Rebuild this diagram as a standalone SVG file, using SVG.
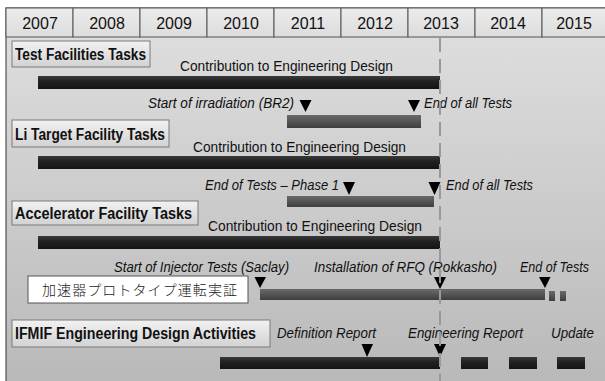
<svg xmlns="http://www.w3.org/2000/svg" width="605" height="381" viewBox="0 0 605 381">
  <defs>
    <linearGradient id="bgGrad" x1="0" y1="0" x2="0" y2="1">
      <stop offset="0" stop-color="#e0e0e0"/>
      <stop offset="1" stop-color="#b9b9b9"/>
    </linearGradient>
    <linearGradient id="hdrGrad" x1="0" y1="0" x2="0" y2="1">
      <stop offset="0" stop-color="#ececec"/>
      <stop offset="1" stop-color="#dcdcdc"/>
    </linearGradient>
    <linearGradient id="boxGrad" x1="0" y1="0" x2="0" y2="1">
      <stop offset="0" stop-color="#f2f2f2"/>
      <stop offset="1" stop-color="#d2d2d2"/>
    </linearGradient>
    <linearGradient id="darkBar" x1="0" y1="0" x2="0" y2="1">
      <stop offset="0" stop-color="#3a3a3a"/>
      <stop offset="0.4" stop-color="#222"/>
      <stop offset="1" stop-color="#141414"/>
    </linearGradient>
    <linearGradient id="midBar" x1="0" y1="0" x2="0" y2="1">
      <stop offset="0" stop-color="#6a6a6a"/>
      <stop offset="1" stop-color="#3e3e3e"/>
    </linearGradient>
    <style>
      .yr { font-family: "Liberation Sans", Arial, sans-serif; font-size: 16px; fill: #111; text-anchor: middle; }
      .cell { fill: url(#hdrGrad); stroke: #555; stroke-width: 1; }
      .box { fill: url(#boxGrad); stroke: #7a7a7a; stroke-width: 1; }
      .lbl { font-family: "Liberation Sans", Arial, sans-serif; font-size: 16px; font-weight: bold; fill: #111; }
      .txt { font-family: "Liberation Sans", Arial, sans-serif; font-size: 15px; fill: #111; }
      .it { font-family: "Liberation Sans", Arial, sans-serif; font-size: 14.5px; font-style: italic; fill: #111; }
      .dark { fill: url(#darkBar); }
      .mid { fill: url(#midBar); }
      .tri { fill: #000; }
      .now { stroke: #999; stroke-width: 2; stroke-dasharray: 14 7; fill: none; }
    </style>
  </defs>

  <!-- canvas -->
  <rect x="0" y="0" width="605" height="381" fill="#fff"/>
  <rect x="6" y="8" width="600" height="374" fill="url(#bgGrad)" stroke="#333" stroke-width="1"/>

  <!-- year header -->
  <g id="years">
    <rect class="cell" x="6" y="8" width="67" height="29"/>
    <rect class="cell" x="73" y="8" width="67" height="29"/>
    <rect class="cell" x="140" y="8" width="67" height="29"/>
    <rect class="cell" x="207" y="8" width="67" height="29"/>
    <rect class="cell" x="274" y="8" width="67" height="29"/>
    <rect class="cell" x="341" y="8" width="67" height="29"/>
    <rect class="cell" x="408" y="8" width="67" height="29"/>
    <rect class="cell" x="475" y="8" width="67" height="29"/>
    <rect class="cell" x="542" y="8" width="67" height="29"/>
    <text class="yr" x="40" y="29">2007</text>
    <text class="yr" x="107" y="29">2008</text>
    <text class="yr" x="174" y="29">2009</text>
    <text class="yr" x="241" y="29">2010</text>
    <text class="yr" x="308" y="29">2011</text>
    <text class="yr" x="375" y="29">2012</text>
    <text class="yr" x="441" y="29">2013</text>
    <text class="yr" x="508" y="29">2014</text>
    <text class="yr" x="574" y="29">2015</text>
  </g>

  <!-- Test Facilities -->
  <g id="test-facilities">
    <rect class="box" x="12" y="41" width="138" height="26"/>
    <text class="lbl" x="15" y="60" textLength="131" lengthAdjust="spacingAndGlyphs">Test Facilities Tasks</text>
    <text class="txt" x="180" y="71" textLength="213" lengthAdjust="spacingAndGlyphs">Contribution to Engineering Design</text>
    <rect class="dark" x="38" y="76" width="402" height="13"/>
    <text class="it" x="148" y="108" textLength="146" lengthAdjust="spacingAndGlyphs">Start of irradiation (BR2)</text>
    <rect class="mid" x="287" y="115" width="134" height="13"/>
    <path class="tri" d="M299.5 100 L311.5 100 L305.5 112 Z"/>
    <path class="tri" d="M408 100 L420 100 L414 112 Z"/>
    <text class="it" x="424" y="108" textLength="88" lengthAdjust="spacingAndGlyphs">End of all Tests</text>
  </g>

  <!-- Li Target Facility -->
  <g id="li-target">
    <rect class="box" x="12" y="120" width="157" height="27"/>
    <text class="lbl" x="15" y="140" textLength="150" lengthAdjust="spacingAndGlyphs">Li Target Facility Tasks</text>
    <text class="txt" x="193" y="152" textLength="213" lengthAdjust="spacingAndGlyphs">Contribution to Engineering Design</text>
    <rect class="dark" x="38" y="156" width="402" height="13"/>
    <text class="it" x="205" y="190" textLength="134" lengthAdjust="spacingAndGlyphs">End of Tests – Phase 1</text>
    <rect class="mid" x="287" y="196" width="147" height="11"/>
    <path class="tri" d="M343 182 L355 182 L349 195 Z"/>
    <path class="tri" d="M428.5 182 L440.5 182 L434.5 195 Z"/>
    <text class="it" x="446" y="190" textLength="87" lengthAdjust="spacingAndGlyphs">End of all Tests</text>
  </g>

  <!-- Accelerator Facility -->
  <g id="accelerator">
    <rect class="box" x="12" y="201" width="186" height="24"/>
    <text class="lbl" x="15" y="219" textLength="177" lengthAdjust="spacingAndGlyphs">Accelerator Facility Tasks</text>
    <text class="txt" x="208" y="231" textLength="214" lengthAdjust="spacingAndGlyphs">Contribution to Engineering Design</text>
    <rect class="dark" x="38" y="236" width="402" height="13"/>
    <text class="it" x="114" y="272" textLength="175" lengthAdjust="spacingAndGlyphs">Start of Injector Tests (Saclay)</text>
    <text class="it" x="314" y="272" textLength="183" lengthAdjust="spacingAndGlyphs">Installation of RFQ (Rokkasho)</text>
    <text class="it" x="520" y="272" textLength="69" lengthAdjust="spacingAndGlyphs">End of Tests</text>
    <rect class="mid" x="260" y="289" width="285" height="11"/>
    <rect class="mid" x="549" y="291" width="6" height="10"/>
    <rect class="mid" x="560" y="291" width="6" height="10"/>
    <path class="tri" d="M254.5 277 L266 277 L260 288 Z"/>
    <path class="tri" d="M434 277 L446 277 L440 289 Z"/>
    <path class="tri" d="M539 277 L550.5 277 L545 288 Z"/>
  </g>

  <!-- prototype note -->
  <g id="prototype">
    <rect x="28" y="276" width="220" height="27" fill="#fff" stroke="#555" stroke-width="1"/>
    <text x="42" y="295" font-family="'Noto Sans CJK JP', sans-serif" font-size="14" font-weight="300" fill="#222" textLength="195" lengthAdjust="spacing">加速器プロトタイプ運転実証</text>
  </g>

  <!-- IFMIF EDA -->
  <g id="ifmif-eda">
    <rect class="box" x="12" y="320" width="258" height="27"/>
    <text class="lbl" x="15" y="339" textLength="241" lengthAdjust="spacingAndGlyphs">IFMIF Engineering Design Activities</text>
    <text class="it" x="277" y="338" textLength="99" lengthAdjust="spacingAndGlyphs">Definition Report</text>
    <text class="it" x="408" y="338" textLength="115" lengthAdjust="spacingAndGlyphs">Engineering Report</text>
    <text class="it" x="551" y="338" textLength="43" lengthAdjust="spacingAndGlyphs">Update</text>
    <rect class="dark" x="220" y="357" width="220" height="12"/>
    <rect class="dark" x="461" y="357" width="27" height="12"/>
    <rect class="dark" x="509" y="357" width="28" height="12"/>
    <rect class="dark" x="557" y="357" width="28" height="12"/>
    <path class="tri" d="M361.5 344 L373 344 L367 357 Z"/>
    <path class="tri" d="M434 344 L446 344 L440 357 Z"/>
  </g>

  <!-- current-date marker -->
  <g id="connectors">
    <line class="now" x1="440" y1="38" x2="440" y2="381"/>
  </g>
</svg>
